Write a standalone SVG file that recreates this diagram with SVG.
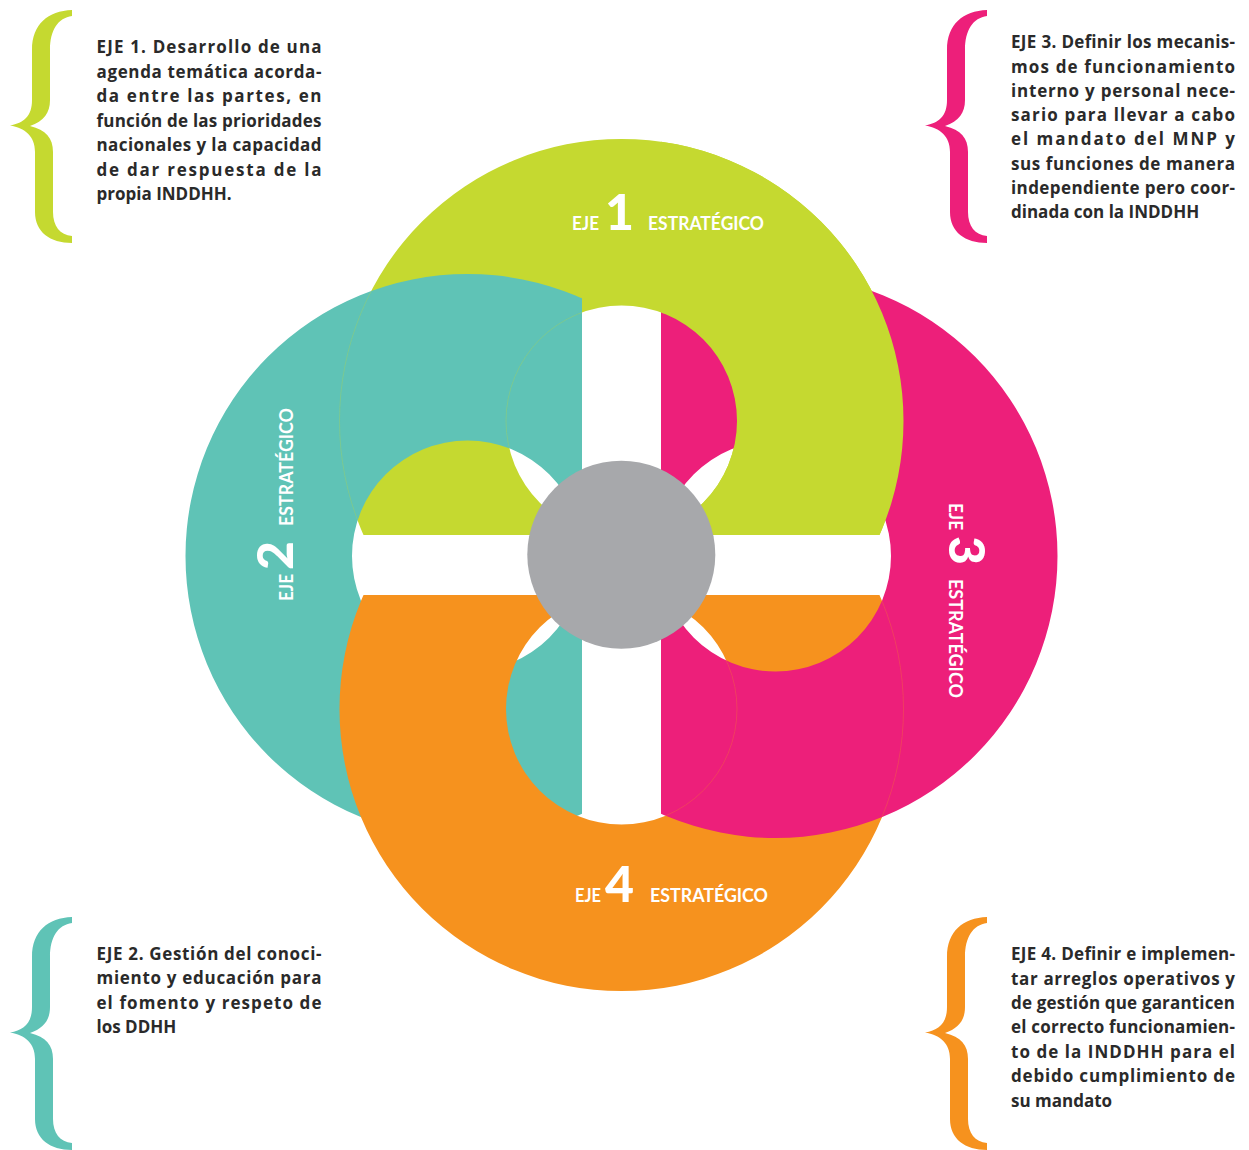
<svg xmlns="http://www.w3.org/2000/svg" width="1249" height="1150" viewBox="0 0 1249 1150">
<style>
.body{font-family:"Open Sans","Liberation Sans",sans-serif;font-weight:700;font-size:17px;fill:#2A2A2A}
.lbl{font-family:Lato,"Liberation Sans",sans-serif;font-weight:700;font-size:18px;fill:#FFFFFF}
.num{font-family:Lato,"Liberation Sans",sans-serif;font-weight:900;font-size:50px;fill:#FFFFFF}
.seam{fill:none;stroke-width:0.6;opacity:0.45}
</style>
<defs>
<path id="ringLime" fill-rule="evenodd" d="M339.5,421a282,282 0 1,0 564,0a282,282 0 1,0 -564,0ZM506,421a115.5,115.5 0 1,0 231,0a115.5,115.5 0 1,0 -231,0Z"/>
<path id="ringTeal" fill-rule="evenodd" d="M185.5,556a282,282 0 1,0 564,0a282,282 0 1,0 -564,0ZM352,556a115.5,115.5 0 1,0 231,0a115.5,115.5 0 1,0 -231,0Z"/>
<path id="ringPink" fill-rule="evenodd" d="M493.5,556a282,282 0 1,0 564,0a282,282 0 1,0 -564,0ZM660,556a115.5,115.5 0 1,0 231,0a115.5,115.5 0 1,0 -231,0Z"/>
<path id="ringOrange" fill-rule="evenodd" d="M339.5,709a282,282 0 1,0 564,0a282,282 0 1,0 -564,0ZM506,709a115.5,115.5 0 1,0 231,0a115.5,115.5 0 1,0 -231,0Z"/>
<clipPath id="cTop"><rect x="0" y="0" width="1249" height="535"/></clipPath>
<clipPath id="cLeft"><rect x="0" y="0" width="582" height="1150"/></clipPath>
<clipPath id="cRight"><rect x="661" y="0" width="588" height="1150"/></clipPath>
<clipPath id="cBottom"><rect x="0" y="595" width="1249" height="555"/></clipPath>
<clipPath id="cTealRing"><path clip-rule="evenodd" d="M185.5,556a282,282 0 1,0 564,0a282,282 0 1,0 -564,0ZM352,556a115.5,115.5 0 1,0 231,0a115.5,115.5 0 1,0 -231,0Z"/></clipPath>
<clipPath id="cPinkRing"><path clip-rule="evenodd" d="M493.5,556a282,282 0 1,0 564,0a282,282 0 1,0 -564,0ZM660,556a115.5,115.5 0 1,0 231,0a115.5,115.5 0 1,0 -231,0Z"/></clipPath>
<path id="brace" d="M72,10C48,11 32,24 32,50L32,100C32,116 24,123 10,125.5C25,128 35,136 35,152L35,212C35,232 50,243 72,243L72,236C60,235 53,226 53,212L53,152C53,138 46,130 30,126C44,121 50,113 50,100L50,50C50,30 58,18 72,16Z"/>
</defs>

<g id="eje1-ring">
<use href="#ringLime" fill="#C5D930" clip-path="url(#cTop)"/>
</g>
<g id="eje2-ring">
<use href="#ringTeal" fill="#5FC3B6" clip-path="url(#cLeft)"/>
<g clip-path="url(#cLeft)"><g clip-path="url(#cTealRing)"><g clip-path="url(#cTop)">
<circle class="seam" stroke="#C5D930" cx="621.5" cy="421" r="282"/>
<circle class="seam" stroke="#C5D930" cx="621.5" cy="421" r="115.5"/>
</g></g></g>
</g>
<g id="eje4-ring">
<use href="#ringOrange" fill="#F6921E" clip-path="url(#cBottom)"/>
</g>
<g id="eje3-ring">
<use href="#ringPink" fill="#ED1F7A" clip-path="url(#cRight)"/>
<g clip-path="url(#cRight)"><g clip-path="url(#cPinkRing)"><g clip-path="url(#cBottom)">
<circle class="seam" stroke="#F6921E" cx="621.5" cy="709" r="282"/>
<circle class="seam" stroke="#F6921E" cx="621.5" cy="709" r="115.5"/>
</g></g></g>
</g>
<g id="eje1-overlap" clip-path="url(#cRight)">
<use href="#ringLime" fill="#C5D930" clip-path="url(#cTop)"/>
</g>

<g id="center">
<circle cx="621.3" cy="554.7" r="94" fill="#A7A8AB"/>
</g>

<g id="eje1-label">
<text class="lbl" x="572" y="230" textLength="27" lengthAdjust="spacingAndGlyphs">EJE</text>
<text class="num" x="605" y="230">1</text>
<text class="lbl" x="648" y="230" textLength="116" lengthAdjust="spacingAndGlyphs">ESTRATÉGICO</text>
</g>
<g id="eje4-label">
<text class="lbl" x="575" y="902" textLength="26" lengthAdjust="spacingAndGlyphs">EJE</text>
<text class="num" x="605" y="902" font-size="52">4</text>
<text class="lbl" x="650" y="902" textLength="118" lengthAdjust="spacingAndGlyphs">ESTRATÉGICO</text>
</g>
<g id="eje2-label" transform="translate(292.5,556) rotate(-90)">
<text class="lbl" x="-45" y="0" textLength="27" lengthAdjust="spacingAndGlyphs">EJE</text>
<text class="num" x="-14" y="0" font-size="52">2</text>
<text class="lbl" x="30" y="0" textLength="118" lengthAdjust="spacingAndGlyphs">ESTRATÉGICO</text>
</g>
<g id="eje3-label" transform="translate(949,556) rotate(90)">
<text class="lbl" x="-53" y="0" textLength="27" lengthAdjust="spacingAndGlyphs">EJE</text>
<text class="num" x="-20" y="0" font-size="52">3</text>
<text class="lbl" x="23" y="0" textLength="119" lengthAdjust="spacingAndGlyphs">ESTRATÉGICO</text>
</g>

<g id="text-eje1">
<use href="#brace" fill="#C5D930"/>
<text class="body" x="96.5" y="53.3" textLength="225" lengthAdjust="spacing">EJE 1. Desarrollo de una</text>
<text class="body" x="96.5" y="77.8" textLength="225" lengthAdjust="spacing">agenda temática acorda-</text>
<text class="body" x="96.5" y="102.2" textLength="225" lengthAdjust="spacing">da entre las partes, en</text>
<text class="body" x="96.5" y="126.7" textLength="225" lengthAdjust="spacing">función de las prioridades</text>
<text class="body" x="96.5" y="151.1" textLength="225" lengthAdjust="spacing">nacionales y la capacidad</text>
<text class="body" x="96.5" y="175.6" textLength="225" lengthAdjust="spacing">de dar respuesta de la</text>
<text class="body" x="96.5" y="200">propia INDDHH.</text>
</g>
<g id="text-eje3">
<use href="#brace" fill="#ED1F7A" transform="translate(915,0)"/>
<text class="body" x="1011" y="48.3" textLength="224" lengthAdjust="spacing">EJE 3. Definir los mecanis-</text>
<text class="body" x="1011" y="72.5" textLength="224" lengthAdjust="spacing">mos de funcionamiento</text>
<text class="body" x="1011" y="96.8" textLength="224" lengthAdjust="spacing">interno y personal nece-</text>
<text class="body" x="1011" y="121" textLength="224" lengthAdjust="spacing">sario para llevar a cabo</text>
<text class="body" x="1011" y="145.3" textLength="224" lengthAdjust="spacing">el mandato del MNP y</text>
<text class="body" x="1011" y="169.5" textLength="224" lengthAdjust="spacing">sus funciones de manera</text>
<text class="body" x="1011" y="193.8" textLength="224" lengthAdjust="spacing">independiente pero coor-</text>
<text class="body" x="1011" y="218">dinada con la INDDHH</text>
</g>
<g id="text-eje2">
<use href="#brace" fill="#5FC3B6" transform="translate(0,907)"/>
<text class="body" x="96.5" y="960" textLength="225" lengthAdjust="spacing">EJE 2. Gestión del conoci-</text>
<text class="body" x="96.5" y="984.4" textLength="225" lengthAdjust="spacing">miento y educación para</text>
<text class="body" x="96.5" y="1008.8" textLength="225" lengthAdjust="spacing">el fomento y respeto de</text>
<text class="body" x="96.5" y="1033.2">los DDHH</text>
</g>
<g id="text-eje4">
<use href="#brace" fill="#F6921E" transform="translate(915,907)"/>
<text class="body" x="1011" y="960" textLength="224" lengthAdjust="spacing">EJE 4. Definir e implemen-</text>
<text class="body" x="1011" y="984.5" textLength="224" lengthAdjust="spacing">tar arreglos operativos y</text>
<text class="body" x="1011" y="1008.9" textLength="224" lengthAdjust="spacing">de gestión que garanticen</text>
<text class="body" x="1011" y="1033.4" textLength="224" lengthAdjust="spacing">el correcto funcionamien-</text>
<text class="body" x="1011" y="1057.8" textLength="224" lengthAdjust="spacing">to de la INDDHH para el</text>
<text class="body" x="1011" y="1082.3" textLength="224" lengthAdjust="spacing">debido cumplimiento de</text>
<text class="body" x="1011" y="1106.7">su mandato</text>
</g>
</svg>
